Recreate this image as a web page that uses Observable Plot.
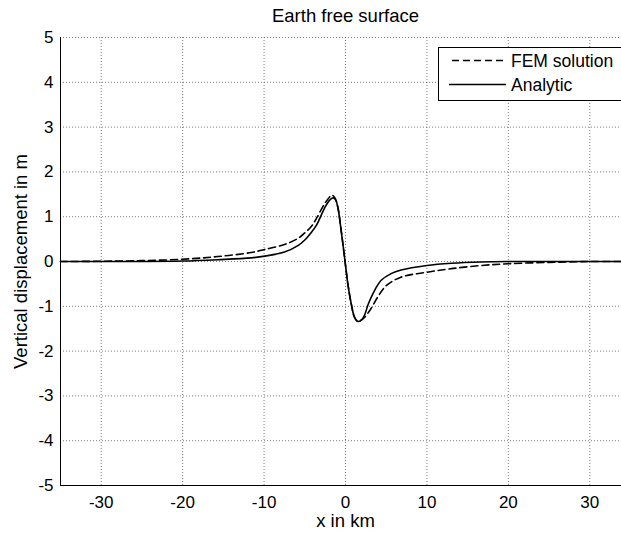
<!DOCTYPE html>
<html>
<head>
<meta charset="utf-8">
<script src="https://cdn.jsdelivr.net/npm/d3@7"></script>
<script src="https://cdn.jsdelivr.net/npm/@observablehq/plot@0.6"></script>
<style>
  html, body { margin: 0; padding: 0; background: #fff; overflow: hidden; }
  #wrap { position: relative; width: 621px; height: 534px; overflow: hidden; }
  #wrap > svg { overflow: hidden; max-width: none; }
  #legend { position: absolute; left: 438px; top: 47px; width: 200px; height: 54px; overflow: visible; }
</style>
</head>
<body>
<div id="wrap"></div>
<script>
const titleText = "Earth free surface";
const xLabel = "x in km";
const yLabel = "Vertical displacement in m";
const seriesNames = ["FEM solution", "Analytic"];
const xTicks = [-30, -20, -10, 0, 10, 20, 30];
const yTicks = [-5, -4, -3, -2, -1, 0, 1, 2, 3, 4, 5];

const femX = [-35, -30, -25, -20, -15.7, -11.6, -9.9, -7.5, -5.8, -5, -4.2, -3.6, -2.6, -2, -1.65, -1.3, -0.93, -0.53, -0.12, 0.29, 0.7, 1.1, 1.55, 2.0, 2.33, 3.1, 4.0, 5.0, 6.8, 10, 13, 16.6, 20, 25, 30, 35];
const femY = [0, 0.005, 0.02, 0.05, 0.11, 0.2, 0.27, 0.38, 0.52, 0.64, 0.78, 0.95, 1.28, 1.43, 1.48, 1.42, 1.2, 0.69, 0.1, -0.5, -0.94, -1.24, -1.34, -1.3, -1.25, -1.06, -0.78, -0.54, -0.35, -0.24, -0.16, -0.09, -0.05, -0.02, 0, 0];

const anaX = [-35, -30, -25, -20, -15.7, -11.6, -9.9, -7.5, -5.8, -5, -4.2, -3.6, -2.6, -2, -1.5, -1.2, -0.93, -0.53, -0.12, 0.29, 0.7, 1.1, 1.55, 2.0, 2.33, 2.8, 3.36, 4.38, 5.6, 6.83, 10, 13, 16.6, 20, 25, 30, 35];
const anaY = [0, 0, 0, 0.01, 0.04, 0.08, 0.12, 0.21, 0.36, 0.48, 0.65, 0.8, 1.18, 1.36, 1.42, 1.37, 1.2, 0.69, 0.1, -0.5, -0.94, -1.24, -1.34, -1.3, -1.2, -0.95, -0.72, -0.42, -0.27, -0.19, -0.09, -0.04, -0.01, 0, 0, 0, 0];

const fem = femX.map((x, i) => ({x, y: femY[i]}));
const ana = anaX.map((x, i) => ({x, y: anaY[i]}));

const gridStyle = {stroke: "#444", strokeOpacity: 0.7, strokeWidth: 1, strokeDasharray: "1,2"};
const fmt = d => String(d);

const plot = Plot.plot({
  width: 621,
  height: 534,
  marginLeft: 60,
  marginRight: -9,
  marginTop: 37,
  marginBottom: 49,
  style: {fontFamily: "'Liberation Sans', Arial, sans-serif", fontSize: "17px", background: "#fff", color: "#000"},
  x: {domain: [-35, 35]},
  y: {domain: [-5, 5]},
  marks: [
    Plot.gridX(xTicks, gridStyle),
    Plot.gridY(yTicks.filter(d => d > -5), gridStyle),
    Plot.axisX(xTicks, {tickSize: 0, tickPadding: 10, label: null, fontSize: 17, tickFormat: fmt}),
    Plot.axisY(yTicks, {tickSize: 0, tickPadding: 7, label: null, fontSize: 17, tickFormat: fmt}),
    Plot.ruleX([-35], {stroke: "#000", strokeWidth: 1}),
    Plot.ruleY([-5], {stroke: "#000", strokeWidth: 1}),
    Plot.line(fem, {x: "x", y: "y", curve: "catmull-rom", stroke: "#000", strokeWidth: 1.6, strokeDasharray: "7,4"}),
    Plot.line(ana, {x: "x", y: "y", curve: "catmull-rom", stroke: "#000", strokeWidth: 1.6}),
    Plot.text([titleText], {text: d => d, frameAnchor: "top", lineAnchor: "middle", textAnchor: "middle", dy: -21, fontSize: 18.5}),
    Plot.text([xLabel], {text: d => d, frameAnchor: "bottom", lineAnchor: "middle", textAnchor: "middle", dy: 36, fontSize: 18.5}),
    Plot.text([yLabel], {text: d => d, frameAnchor: "left", lineAnchor: "middle", textAnchor: "middle", dx: -39, rotate: -90, fontSize: 18.5})
  ]
});

const wrap = document.getElementById("wrap");
wrap.appendChild(plot);

// Legend (HTML overlay with inline SVG)
const ns = "http://www.w3.org/2000/svg";
const leg = document.createElementNS(ns, "svg");
leg.setAttribute("id", "legend");
leg.setAttribute("width", "200");
leg.setAttribute("height", "54");
const box = document.createElementNS(ns, "rect");
box.setAttribute("x", "0.5"); box.setAttribute("y", "0.5");
box.setAttribute("width", "198"); box.setAttribute("height", "53");
box.setAttribute("fill", "#fff"); box.setAttribute("stroke", "#000"); box.setAttribute("stroke-width", "1");
leg.appendChild(box);
const rows = [
  {name: seriesNames[0], y: 13.5, dash: "7,4", x1: 14},
  {name: seriesNames[1], y: 37.5, dash: null, x1: 11}
];
rows.forEach(r => {
  const l = document.createElementNS(ns, "line");
  l.setAttribute("x1", r.x1); l.setAttribute("x2", 68);
  l.setAttribute("y1", r.y); l.setAttribute("y2", r.y);
  l.setAttribute("stroke", "#000"); l.setAttribute("stroke-width", "1.6");
  if (r.dash) l.setAttribute("stroke-dasharray", r.dash);
  leg.appendChild(l);
  const t = document.createElementNS(ns, "text");
  t.setAttribute("x", 73); t.setAttribute("y", r.y);
  t.setAttribute("dy", "0.35em");
  t.setAttribute("font-family", "'Liberation Sans', Arial, sans-serif");
  t.setAttribute("font-size", "17.5");
  t.textContent = r.name;
  leg.appendChild(t);
});
wrap.appendChild(leg);
</script>
</body>
</html>
